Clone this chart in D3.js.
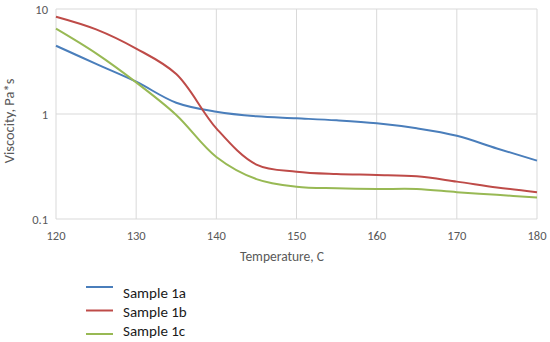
<!DOCTYPE html>
<html><head><meta charset="utf-8">
<script src="https://cdn.jsdelivr.net/npm/d3@7"></script>
<style>body{margin:0;background:#fff;}svg{display:block;font-family:Carlito,Lato,"Open Sans",sans-serif;}</style>
</head><body>
<svg id="c" width="550" height="342"></svg>
<script>
const temps = [120,125,130,135,140,145,150,155,160,165,170,175,180];
const sample1a = [4.47,3.0,2.03,1.28,1.05,0.95,0.91,0.87,0.815,0.73,0.62,0.47,0.36];
const sample1b = [8.45,6.4,4.2,2.4,0.73,0.33,0.282,0.268,0.263,0.255,0.227,0.2,0.18];
const sample1c = [6.5,3.78,2.0,0.98,0.39,0.24,0.203,0.196,0.193,0.193,0.18,0.17,0.16];
const xTicks = [120,130,140,150,160,170,180];
const yTicks = [0.1,1,10];
const seriesNames = ["Sample 1a","Sample 1b","Sample 1c"];
const colors = ["#4a7ebb","#be4b48","#98b954"];

const svg = d3.select("#c");
const x = d3.scaleLinear().domain([120,180]).range([56,537]);
const y = d3.scaleLog().domain([0.1,10]).range([219,9]);

svg.append("g").selectAll("line").data(xTicks).join("line")
  .attr("x1",d=>x(d)).attr("x2",d=>x(d)).attr("y1",y(10)).attr("y2",y(0.1))
  .attr("stroke","#d9d9d9").attr("stroke-width",1);
svg.append("g").selectAll("line").data(yTicks).join("line")
  .attr("x1",x(120)).attr("x2",x(180)).attr("y1",d=>y(d)).attr("y2",d=>y(d))
  .attr("stroke","#d9d9d9").attr("stroke-width",1);

svg.append("g").selectAll("text").data(xTicks).join("text")
  .attr("x",d=>x(d)).attr("y",y(0.1)+21).attr("text-anchor","middle")
  .attr("font-size",12.5).attr("fill","#595959").text(d=>d);
svg.append("g").selectAll("text").data(yTicks).join("text")
  .attr("x",x(120)-8).attr("y",d=>y(d)+4.5).attr("text-anchor","end")
  .attr("font-size",12.5).attr("fill","#595959").text(d=>d);

svg.append("text").attr("x",282).attr("y",261).attr("text-anchor","middle")
  .attr("font-size",13.5).attr("fill","#595959").text("Temperature, C");
svg.append("text").attr("transform","translate(14,121) rotate(-90)").attr("text-anchor","middle")
  .attr("font-size",14.5).attr("fill","#595959").text("Viscocity, Pa*s");

const seriesVals = [sample1a, sample1b, sample1c];
const data = seriesVals.map(vals => temps.map((t,i)=>[t,vals[i]]));
const line = d3.line().x(d=>x(d[0])).y(d=>y(d[1])).curve(d3.curveCatmullRom.alpha(0.5));
svg.append("g").selectAll("path").data(data).join("path")
  .attr("d",line).attr("fill","none").attr("stroke",(d,i)=>colors[i]).attr("stroke-width",2);

const lineY = [287,310.5,334];
const textY = [292,311,330];
const lg = svg.append("g");
seriesNames.forEach((n,i)=>{
  lg.append("line").attr("x1",86).attr("x2",113).attr("y1",lineY[i]).attr("y2",lineY[i])
    .attr("stroke",colors[i]).attr("stroke-width",2);
  lg.append("text").attr("x",123).attr("y",textY[i]+5.5).attr("font-size",15).attr("fill","#1a1a1a").text(n);
});
</script>
</body></html>
